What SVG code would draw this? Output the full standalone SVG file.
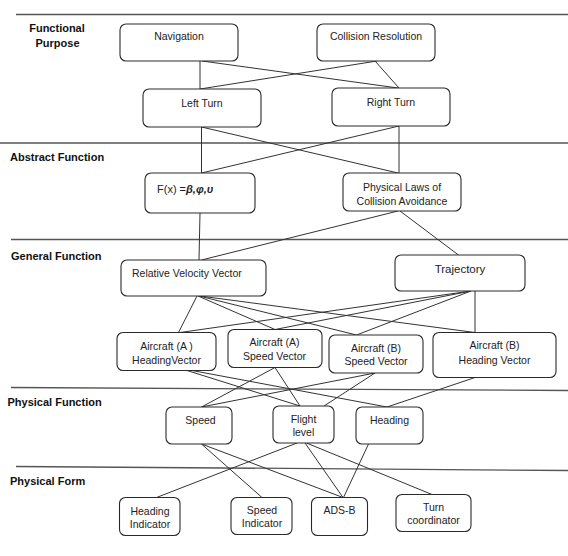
<svg xmlns="http://www.w3.org/2000/svg" width="568" height="556" viewBox="0 0 568 556">
<style>
.sep{stroke:#555;stroke-width:1.3;fill:none}
.box{fill:#fff;stroke:#2a2a2a;stroke-width:1.1}
.conn line{stroke:#333;stroke-width:1}
.t{font-family:"Liberation Sans",Arial,sans-serif;font-size:10.5px;fill:#222;text-anchor:middle}
.ts{text-anchor:start}
.lbl{font-family:"Liberation Sans",Arial,sans-serif;font-size:11px;font-weight:bold;fill:#111}
</style>
<rect width="568" height="556" fill="#fff"/>
<g id="levels">
<line class="sep" x1="16" y1="14.5" x2="568" y2="14.5"/>
<line class="sep" x1="0" y1="143" x2="568" y2="143"/>
<line class="sep" x1="11" y1="239.5" x2="568" y2="239.5"/>
<line class="sep" x1="11" y1="387.5" x2="568" y2="390.5"/>
<line class="sep" x1="16" y1="466.5" x2="568" y2="470.5"/>
<text class="lbl" x="57" y="32" text-anchor="middle">Functional</text>
<text class="lbl" x="57.5" y="47" text-anchor="middle">Purpose</text>
<text class="lbl" x="10" y="161">Abstract Function</text>
<text class="lbl" x="11" y="259.5">General Function</text>
<text class="lbl" x="7.5" y="406">Physical Function</text>
<text class="lbl" x="10" y="484.5">Physical Form</text>
</g>
<g class="conn" id="connectors">
<line x1="200" y1="61" x2="200" y2="89"/>
<line x1="202" y1="61" x2="398" y2="88"/>
<line x1="377" y1="61" x2="200" y2="89"/>
<line x1="375" y1="61" x2="399" y2="88"/>
<line x1="201.5" y1="127" x2="201.5" y2="173"/>
<line x1="201.5" y1="127" x2="398" y2="173"/>
<line x1="399" y1="126" x2="399" y2="173"/>
<line x1="399" y1="126" x2="201.5" y2="173"/>
<line x1="200" y1="213" x2="199" y2="260"/>
<line x1="398" y1="211" x2="201.5" y2="260"/>
<line x1="400" y1="211" x2="458.5" y2="255"/>
<line x1="197" y1="296" x2="178.5" y2="332.5"/>
<line x1="198" y1="296" x2="275" y2="329.5"/>
<line x1="199" y1="296" x2="356.5" y2="335"/>
<line x1="200" y1="296" x2="475" y2="332.5"/>
<line x1="471" y1="291" x2="180" y2="332.5"/>
<line x1="471" y1="291" x2="275" y2="329.5"/>
<line x1="471" y1="291" x2="356.5" y2="335"/>
<line x1="475" y1="291" x2="475" y2="332.5"/>
<line x1="187" y1="370.5" x2="300" y2="406"/>
<line x1="192" y1="370.5" x2="387" y2="407"/>
<line x1="275" y1="367.5" x2="201.5" y2="407"/>
<line x1="275" y1="367.5" x2="300" y2="406"/>
<line x1="375" y1="373" x2="201.5" y2="407"/>
<line x1="375" y1="373" x2="324" y2="406"/>
<line x1="475" y1="377.5" x2="387" y2="407"/>
<line x1="201.5" y1="444" x2="262" y2="497.5"/>
<line x1="201.5" y1="444" x2="343" y2="497.5"/>
<line x1="297" y1="443" x2="156.5" y2="497.5"/>
<line x1="305" y1="443" x2="343" y2="497.5"/>
<line x1="306.5" y1="443" x2="432" y2="494.5"/>
<line x1="368.5" y1="444" x2="343.5" y2="497.5"/>
</g>
<g id="n-navigation"><rect class="box" x="120" y="24" width="118" height="37" rx="6"/><text class="t" x="179" y="39.5">Navigation</text></g>
<g id="n-collision-resolution"><rect class="box" x="317" y="24" width="118" height="37" rx="6"/><text class="t" x="376" y="39.5">Collision Resolution</text></g>
<g id="n-left-turn"><rect class="box" x="143" y="89" width="118" height="38" rx="6"/><text class="t" x="202" y="107">Left Turn</text></g>
<g id="n-right-turn"><rect class="box" x="332" y="88" width="118" height="38" rx="6"/><text class="t" x="391" y="106">Right Turn</text></g>
<g id="n-fx"><rect class="box" x="145" y="173" width="110" height="40" rx="6"/><text class="t ts" x="157" y="193" style="font-size:11px">F(x) =<tspan font-weight="bold" font-style="italic">β,φ,υ</tspan></text></g>
<g id="n-physical-laws"><rect class="box" x="343" y="173" width="118" height="38" rx="6"/><text class="t" x="402" y="191">Physical Laws of</text><text class="t" x="402" y="204.5">Collision Avoidance</text></g>
<g id="n-relative-velocity"><rect class="box" x="121" y="260" width="145" height="36" rx="6"/><text class="t ts" x="132" y="277">Relative Velocity  Vector</text></g>
<g id="n-trajectory"><rect class="box" x="395" y="255" width="130" height="36" rx="6"/><text class="t" x="460" y="272.5" style="font-size:11.5px">Trajectory</text></g>
<g id="n-a-heading"><rect class="box" x="117" y="332.5" width="99" height="38" rx="6"/><text class="t" x="166.5" y="349.5">Aircraft (A )</text><text class="t" x="166.5" y="363.5">HeadingVector</text></g>
<g id="n-a-speed"><rect class="box" x="228" y="329.5" width="94" height="38" rx="6"/><text class="t" x="274.5" y="346">Aircraft (A)</text><text class="t" x="274.5" y="359.5">Speed Vector</text></g>
<g id="n-b-speed"><rect class="box" x="329" y="335" width="94" height="38" rx="6"/><text class="t" x="376" y="351.5">Aircraft (B)</text><text class="t" x="376" y="365">Speed Vector</text></g>
<g id="n-b-heading"><rect class="box" x="433" y="332.5" width="123" height="45" rx="6"/><text class="t" x="494.5" y="348.5">Aircraft (B)</text><text class="t" x="494.5" y="363.5">Heading  Vector</text></g>
<g id="n-speed"><rect class="box" x="166" y="407" width="66" height="37" rx="6"/><text class="t" x="200.5" y="423.5">Speed</text></g>
<g id="n-flight-level"><rect class="box" x="273" y="406" width="61" height="37" rx="6"/><text class="t" x="303.5" y="422.5">Flight</text><text class="t" x="303.5" y="435.5">level</text></g>
<g id="n-heading"><rect class="box" x="356" y="407" width="67" height="37" rx="6"/><text class="t" x="389.5" y="423.5">Heading</text></g>
<g id="n-heading-indicator"><rect class="box" x="119.5" y="497.5" width="60.5" height="38" rx="6"/><text class="t" x="150" y="515">Heading</text><text class="t" x="150" y="528">Indicator</text></g>
<g id="n-speed-indicator"><rect class="box" x="231" y="497.5" width="61" height="37" rx="6"/><text class="t" x="262" y="513.5">Speed</text><text class="t" x="262" y="527">Indicator</text></g>
<g id="n-ads-b"><rect class="box" x="311.5" y="497.5" width="56" height="38" rx="6"/><text class="t" x="339.5" y="514">ADS-B</text></g>
<g id="n-turn-coordinator"><rect class="box" x="396" y="494.5" width="75" height="37" rx="6"/><text class="t" x="433.5" y="511">Turn</text><text class="t" x="433.5" y="523.5">coordinator</text></g>
</svg>
